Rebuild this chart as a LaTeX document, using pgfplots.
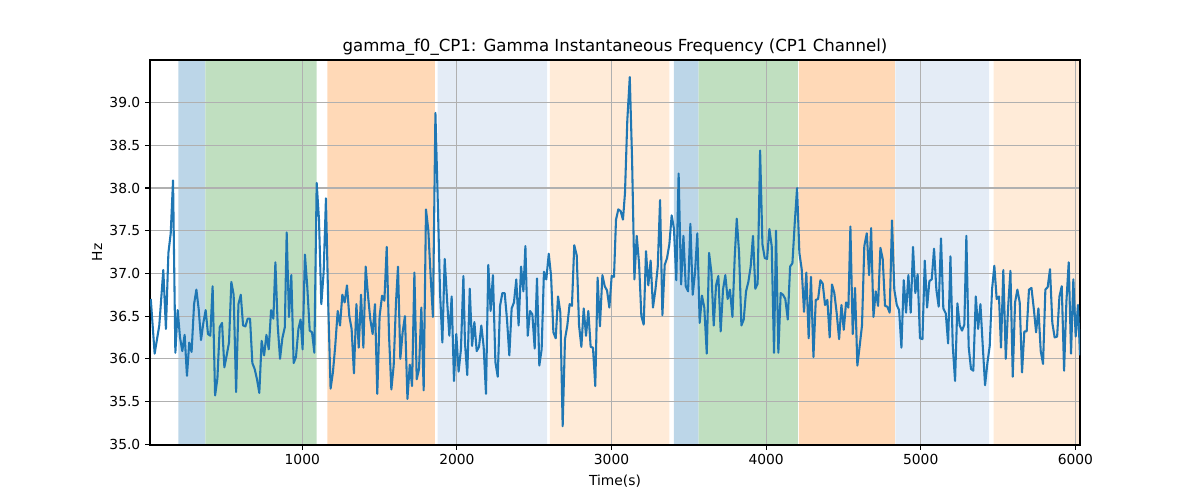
\documentclass[border=0pt]{standalone}
\usepackage{pgfplots}
\pgfplotsset{compat=1.18}
\usepackage{fontspec}
\setmainfont{DejaVu Sans}
\definecolor{cline}{HTML}{1F77B4}
\definecolor{cblue}{RGB}{188,214,232}
\definecolor{cgreen}{RGB}{192,223,192}
\definecolor{corange}{RGB}{255,217,183}
\definecolor{clorange}{RGB}{255,235,216}
\definecolor{clblue}{RGB}{228,236,246}
\definecolor{cgrid}{HTML}{B0B0B0}
\begin{document}
\begin{tikzpicture}
\begin{axis}[
  set layers,
  clip mode=individual,
  name=ax,
  at={(1.5in,0.55in)}, anchor=south west,
  scale only axis, width=9.3in, height=3.85in,
  xmin=15, xmax=6030, ymin=34.99, ymax=39.5,
  xtick={1000,2000,3000,4000,5000,6000},
  ytick={35,35.5,36,36.5,37,37.5,38,38.5,39},
  yticklabel style={/pgf/number format/.cd, fixed, fixed zerofill, precision=1},
  /pgf/number format/1000 sep={},
  /pgf/number format/assume math mode=true,
  tick align=outside, major tick length=3.5pt,
  tick style={black, line width=0.8pt},
  xtick pos=bottom, ytick pos=left,
  grid=major, major grid style={cgrid, line width=0.8pt},
  axis line style={black, line width=0.8pt},
  tick label style={font=\fontsize{10pt}{12pt}\selectfont},
  label style={font=\fontsize{10pt}{12pt}\selectfont},
  ylabel style={xshift=0pt, yshift=-1.5pt},
  title style={font=\fontsize{12pt}{14pt}\selectfont, yshift=-6pt},
  title={gamma\_f0\_CP1: Gamma Instantaneous Frequency (CP1 Channel)},
  xlabel={Time(s)}, ylabel={Hz},
  clip=true,
]
\addplot[fill=cblue, draw=none, on layer=axis background] coordinates {(198,30) (198,45) (373,45) (373,30) (198,30)};
\addplot[fill=cgreen, draw=none, on layer=axis background] coordinates {(373,30) (373,45) (1093,45) (1093,30) (373,30)};
\addplot[fill=corange, draw=none, on layer=axis background] coordinates {(1162,30) (1162,45) (1858,45) (1858,30) (1162,30)};
\addplot[fill=clblue, draw=none, on layer=axis background] coordinates {(1875,30) (1875,45) (2583,45) (2583,30) (1875,30)};
\addplot[fill=clorange, draw=none, on layer=axis background] coordinates {(2602,30) (2602,45) (3374,45) (3374,30) (2602,30)};
\addplot[fill=cblue, draw=none, on layer=axis background] coordinates {(3404,30) (3404,45) (3564,45) (3564,30) (3404,30)};
\addplot[fill=cgreen, draw=none, on layer=axis background] coordinates {(3564,30) (3564,45) (4206,45) (4206,30) (3564,30)};
\addplot[fill=corange, draw=none, on layer=axis background] coordinates {(4211,30) (4211,45) (4832,45) (4832,30) (4211,30)};
\addplot[fill=clblue, draw=none, on layer=axis background] coordinates {(4836,30) (4836,45) (5442,45) (5442,30) (4836,30)};
\addplot[fill=clorange, draw=none, on layer=axis background] coordinates {(5472,30) (5472,45) (6100,45) (6100,30) (5472,30)};
\addplot[cline, line width=1.5pt, line join=round, mark=none] table {
x y
20 36.70
45 36.06
75 36.39
101 37.04
118 36.35
134 37.24
149 37.47
164 38.09
179 36.07
194 36.57
209 36.25
224 36.09
239 36.28
254 35.80
269 36.19
284 36.08
300 36.64
315 36.81
330 36.58
345 36.22
360 36.42
375 36.57
390 36.29
405 36.27
420 36.85
436 35.57
451 35.77
466 36.37
481 36.42
496 35.90
511 36.04
526 36.19
541 36.90
556 36.75
572 35.61
587 36.64
602 36.75
617 36.39
632 36.38
647 36.47
662 36.47
677 35.95
692 35.88
707 35.76
722 35.60
737 36.21
753 36.04
768 36.28
783 36.11
798 36.57
813 36.47
826 37.13
841 36.39
856 36.00
871 36.24
887 36.37
899 37.48
914 36.49
929 36.98
944 35.95
959 36.02
975 36.35
989 36.46
1002 36.11
1017 37.22
1032 36.85
1048 36.33
1063 36.31
1078 36.07
1093 38.06
1108 37.63
1123 36.64
1138 37.01
1153 37.88
1168 36.62
1183 35.65
1198 35.84
1213 36.15
1229 36.56
1244 36.39
1259 36.75
1274 36.66
1289 36.86
1304 36.50
1319 36.35
1334 35.83
1350 36.64
1365 36.13
1380 36.75
1395 36.13
1410 37.08
1425 36.74
1440 36.46
1455 36.29
1470 36.64
1485 35.59
1500 36.50
1516 36.74
1531 36.68
1546 37.31
1561 36.27
1576 35.64
1591 35.92
1606 36.66
1619 37.08
1634 36.00
1649 36.31
1664 36.50
1680 35.53
1695 35.93
1710 35.68
1725 37.01
1740 35.76
1755 35.88
1770 36.60
1785 35.63
1800 37.75
1815 37.51
1830 36.97
1845 36.49
1861 38.88
1876 37.86
1891 36.77
1906 36.19
1921 37.17
1936 36.70
1951 36.27
1966 36.73
1981 35.74
1996 36.29
2011 35.85
2026 36.11
2042 36.97
2052 36.19
2067 35.81
2083 36.82
2098 36.15
2113 36.43
2128 36.09
2143 36.14
2158 36.39
2173 36.14
2188 35.59
2203 37.10
2218 36.56
2233 36.98
2249 35.96
2264 35.79
2279 36.62
2294 36.77
2309 36.77
2324 36.46
2339 36.04
2354 36.59
2369 36.66
2384 36.93
2399 36.39
2415 37.08
2430 36.79
2443 37.32
2458 36.27
2473 36.56
2488 36.52
2503 36.12
2518 36.94
2533 35.92
2548 36.11
2563 37.02
2578 36.93
2594 37.23
2609 36.97
2624 36.31
2639 36.24
2654 36.73
2669 36.54
2684 35.21
2699 36.23
2714 36.39
2729 36.64
2744 36.62
2759 37.33
2775 37.21
2790 36.39
2805 36.14
2820 36.59
2835 36.27
2850 36.56
2865 36.14
2880 36.13
2895 35.68
2910 36.95
2925 36.38
2941 36.98
2956 36.85
2971 36.80
2986 36.60
3001 36.97
3016 36.96
3029 37.63
3044 37.75
3059 37.73
3074 37.63
3087 37.94
3102 38.79
3118 39.30
3133 38.33
3148 36.93
3163 37.44
3178 37.12
3193 36.50
3208 36.40
3223 37.26
3238 36.86
3253 37.15
3268 36.60
3284 36.81
3299 37.08
3314 37.86
3329 36.51
3344 37.10
3359 37.18
3374 37.34
3389 37.68
3404 37.52
3419 36.92
3434 38.17
3450 36.87
3465 37.44
3480 36.85
3495 36.79
3510 37.58
3525 36.75
3540 37.01
3555 37.47
3570 36.42
3585 36.74
3600 36.60
3616 36.06
3631 37.24
3646 37.01
3661 36.39
3676 36.86
3691 36.97
3706 36.32
3721 36.81
3736 36.98
3751 36.70
3766 36.81
3782 36.49
3797 37.20
3810 37.64
3825 37.24
3840 36.39
3855 36.46
3870 36.79
3885 36.90
3900 37.08
3915 37.44
3930 36.82
3945 36.88
3961 38.44
3976 37.34
3991 37.18
4006 37.17
4021 37.52
4036 37.32
4051 36.07
4064 37.50
4079 36.07
4094 36.77
4109 36.75
4124 36.70
4140 36.46
4155 37.08
4170 37.12
4185 37.59
4200 38.00
4215 37.24
4230 37.05
4245 36.55
4260 37.01
4275 36.24
4290 36.96
4306 36.02
4321 36.69
4336 36.70
4351 36.92
4366 36.88
4381 36.63
4396 36.69
4411 36.25
4426 36.87
4441 36.77
4456 36.54
4472 36.23
4487 36.63
4502 36.34
4517 36.66
4532 36.60
4545 37.55
4560 36.29
4575 36.83
4590 35.92
4605 36.15
4620 36.39
4635 37.32
4651 37.47
4666 36.98
4679 37.53
4694 36.49
4709 36.79
4724 36.62
4739 37.30
4754 37.17
4769 36.62
4784 36.61
4799 36.54
4814 37.62
4829 36.81
4845 36.63
4860 36.57
4875 36.13
4890 36.92
4905 36.54
4920 36.98
4935 36.54
4950 37.31
4965 36.77
4980 36.99
4995 36.24
5011 36.23
5026 37.15
5041 36.60
5056 36.91
5071 36.93
5086 37.29
5101 36.81
5116 36.61
5131 37.41
5146 36.59
5162 36.53
5177 36.18
5192 37.20
5207 36.15
5222 35.74
5237 36.65
5252 36.39
5267 36.33
5282 36.40
5295 37.44
5310 36.14
5325 35.88
5340 35.86
5356 36.73
5371 36.35
5386 36.64
5401 36.15
5416 35.69
5431 35.95
5446 36.15
5461 36.81
5476 37.09
5491 36.70
5506 36.73
5519 36.13
5534 37.04
5550 36.00
5565 36.60
5580 37.03
5595 35.79
5610 36.66
5625 36.81
5640 36.66
5655 35.84
5670 36.32
5685 36.32
5700 36.81
5716 36.83
5731 36.59
5746 36.31
5761 36.59
5776 36.09
5791 35.94
5806 36.81
5821 36.84
5836 37.05
5851 36.42
5866 36.25
5882 36.26
5897 36.73
5912 36.85
5927 35.86
5942 36.67
5957 37.13
5972 36.06
5987 36.93
6002 36.26
6017 36.63
6030 36.04
};
\end{axis}
\path (ax.south west) ++(-1.5in,-0.55in) rectangle ++(12in,5in);
\end{tikzpicture}
\end{document}
